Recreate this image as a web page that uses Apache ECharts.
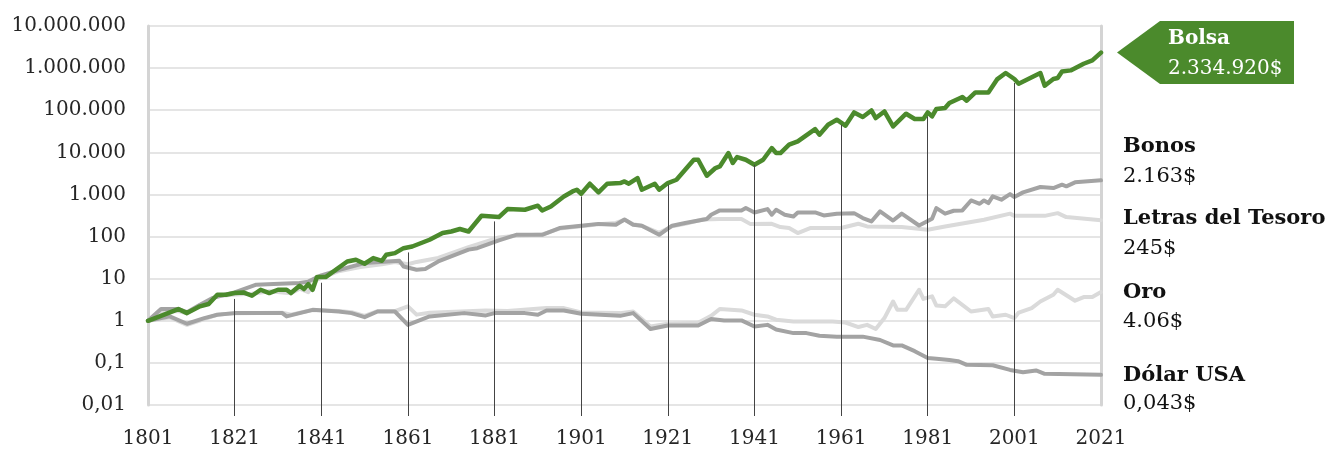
<!DOCTYPE html>
<html>
<head>
<meta charset="utf-8">
<script src="https://cdn.jsdelivr.net/npm/echarts@6/dist/echarts.min.js"></script>
<style>
html,body{margin:0;padding:0;background:#fff;}
#chart{width:1343px;height:454px;}
</style>
</head>
<body>
<div id="chart"></div>
<script>
// ---- Data ----
const bolsaYears = [1801,1808,1810,1813,1815,1817,1819,1821,1823,1825,1827,1829,1831,1833,1834,1836,1837,1838,1839,1840,1842,1847,1849,1851,1853,1855,1856,1858,1860,1862,1866,1869,1871,1873,1875,1878,1882,1884,1888,1891,1892,1894,1897,1899,1900,1901,1903,1905,1907,1910,1911,1912,1914,1915,1918,1919,1921,1923,1925,1927,1928,1930,1932,1933,1935,1936,1937,1939,1941,1943,1945,1946,1947,1949,1951,1955,1956,1958,1960,1962,1964,1966,1968,1969,1971,1973,1976,1978,1980,1981,1982,1983,1985,1986,1989,1990,1992,1995,1997,1999,2001,2002,2007,2008,2010,2011,2012,2014,2017,2019,2021];
const bolsaValues = [1,1.9,1.52,2.2,2.5,4.15,4.15,4.55,4.7,3.93,5.45,4.55,5.45,5.45,4.55,6.8,5.66,7.4,5.45,10.9,10.9,25.6,28.1,22.6,30.8,26.6,37,40.5,53,58,84,121,132,151,132,312,290,450,433,540,417,519,896,1178,1294,1040,1795,1116,1795,1866,2037,1795,2455,1294,1795,1294,1866,2234,3860,6670,6670,2780,4240,4620,9620,5570,7730,6670,5070,6670,12650,9620,9620,15170,18160,35700,26200,45300,59500,42900,88700,68900,98900,65300,93600,41200,82600,61800,61800,88700,71300,107000,113000,148000,206000,168000,265000,265000,540000,766000,551000,427000,766000,382000,551000,582000,835000,883000,1270000,1520000,2334920];

const bonosYears = [1801,1804,1808,1810,1813,1816,1819,1821,1826,1830,1836,1838,1841,1845,1851,1859,1860,1863,1865,1868,1875,1877,1882,1886,1892,1896,1901,1905,1909,1911,1913,1915,1919,1922,1925,1930,1931,1933,1938,1939,1941,1944,1945,1946,1948,1950,1951,1955,1957,1960,1964,1966,1968,1970,1973,1975,1979,1982,1983,1985,1987,1989,1991,1993,1994,1995,1996,1998,2000,2001,2003,2007,2010,2012,2013,2015,2021];
const bonosValues = [1,1.9,1.9,1.6,2.4,3.5,4.2,4.7,7.2,7.5,7.9,8.5,12,16,23.5,26.6,19.5,16.3,17,25.6,49,53,81,110,110,159,181,200,191,255,191,181,110,181,209,261,330,418,418,477,373,449,330,433,330,300,373,373,317,350,360,275,228,396,240,350,183,264,474,350,410,418,720,600,720,625,900,750,1020,870,1120,1500,1420,1700,1560,1940,2163];

const letrasYears = [1801,1804,1808,1810,1813,1815,1817,1821,1825,1829,1834,1836,1838,1840,1845,1850,1855,1858,1861,1863,1868,1875,1879,1882,1886,1892,1896,1901,1905,1909,1911,1913,1915,1919,1922,1925,1929,1933,1938,1940,1945,1947,1949,1951,1954,1961,1965,1967,1975,1981,1985,1994,2000,2001,2008,2011,2013,2021];
const letrasValues = [1,1.6,1.7,1.5,2.3,3,3.8,4.2,4.4,5,4.5,5.8,4.8,9.5,15,19,22,25,22,25,31,56,76,95,105,112,155,175,195,210,250,195,180,123,175,200,254,261,261,200,201,168,160,121,160,160,201,174,168,145,174,250,350,310,310,360,290,245];

const oroYears = [1801,1806,1810,1814,1817,1821,1832,1834,1839,1845,1848,1851,1854,1858,1861,1863,1866,1879,1884,1893,1897,1901,1910,1913,1917,1921,1928,1931,1933,1938,1941,1944,1946,1950,1959,1962,1965,1967,1969,1971,1973,1974,1976,1979,1980,1982,1983,1985,1987,1991,1995,1996,1999,2001,2002,2005,2007,2010,2011,2015,2017,2019,2021];
const oroValues = [1,1.2,0.8,1.1,1.4,1.5,1.55,1.4,1.8,1.7,1.6,1.3,1.7,1.7,2.2,1.4,1.55,1.76,1.7,2.0,2.0,1.57,1.52,1.66,0.73,0.85,0.9,1.31,1.9,1.76,1.39,1.27,1.06,0.96,0.96,0.91,0.71,0.8,0.64,1.16,2.87,1.82,1.82,5.45,3.3,3.8,2.3,2.2,3.4,1.66,1.9,1.27,1.39,1.16,1.57,2.0,2.87,4.15,5.45,3.0,3.66,3.66,4.8];

const dolarYears = [1801,1806,1810,1814,1817,1821,1832,1833,1839,1845,1848,1851,1854,1858,1861,1866,1874,1879,1881,1888,1891,1893,1897,1901,1910,1913,1917,1921,1928,1931,1934,1938,1941,1944,1946,1950,1953,1956,1960,1966,1970,1973,1975,1978,1981,1983,1986,1988,1990,1996,2000,2003,2006,2008,2021];
const dolarValues = [1,1.27,0.85,1.16,1.39,1.52,1.52,1.27,1.82,1.66,1.52,1.22,1.66,1.66,0.8,1.27,1.52,1.34,1.52,1.52,1.39,1.76,1.76,1.47,1.31,1.52,0.64,0.77,0.77,1.1,1.02,1.02,0.73,0.8,0.62,0.51,0.51,0.44,0.42,0.42,0.35,0.26,0.26,0.19,0.13,0.125,0.117,0.11,0.09,0.088,0.068,0.06,0.066,0.055,0.052];

// vertical drop lines (every 20 years) up to the Bolsa line
const dropYears = [1821,1841,1861,1881,1901,1921,1941,1961,1981,2001];
const dropTops  = [3.3,8,42,229,900,1700,5070,45000,71000,443000];

// axis ticks
const xTickValues = [1801,1821,1841,1861,1881,1901,1921,1941,1961,1981,2001,2021];
const yTickValues = [0.01,0.1,1,10,100,1000,10000,100000,1000000,10000000];
const yTickLabels = ['0,01','0,1','1','10','100','1.000','10.000','100.000','1.000.000','10.000.000'];

// end labels
const endNames  = ['Bonos','Letras del Tesoro','Oro','Dólar USA'];
const endValues = ['2.163$','245$','4.06$','0,043$'];
const bolsaName = 'Bolsa';
const bolsaLabel = '2.334.920$';

// ---- Chart ----
const FONT = '"DejaVu Serif", serif';
const GREEN = '#4b8a2c';
const zip = (xs, ys) => xs.map((x, i) => [x, ys[i]]);

const chart = echarts.init(document.getElementById('chart'), null, {renderer: 'canvas'});

function lineSeries(name, xs, ys, color, width, z) {
  return {
    name, type: 'line', data: zip(xs, ys), showSymbol: false, symbol: 'none',
    lineStyle: {color, width, join: 'round', cap: 'round'}, z, silent: true, animation: false
  };
}

const option = {
  animation: false,
  backgroundColor: '#ffffff',
  grid: {left: 148, right: 242, top: 26, bottom: 49, containLabel: false},
  xAxis: {
    type: 'value', min: 1801, max: 2021,
    axisLine: {show: false},
    splitLine: {show: false},
    axisTick: {show: true, customValues: dropYears, length: 11, lineStyle: {color: '#444', width: 1}},
    axisLabel: {customValues: xTickValues, formatter: v => String(v), fontFamily: FONT, fontSize: 20, color: '#262626', margin: 24}
  },
  yAxis: [{
    type: 'log', logBase: 10, min: 0.01, max: 10000000, splitNumber: 9,
    axisLine: {show: true, lineStyle: {color: '#d4d4d4', width: 3}},
    axisTick: {show: false},
    splitLine: {show: true, lineStyle: {color: '#dcdcdc', width: 1.5}},
    axisLabel: {
      fontFamily: FONT, fontSize: 20, color: '#262626', margin: 22,
      formatter: v => yTickLabels[Math.round(Math.log10(v)) + 2]
    }
  }, {
    type: 'log', logBase: 10, min: 0.01, max: 10000000, position: 'right',
    axisLine: {show: true, lineStyle: {color: '#d4d4d4', width: 3}},
    axisTick: {show: false}, axisLabel: {show: false}, splitLine: {show: false}
  }],
  series: [
    {
      type: 'line', data: [], z: 1, silent: true,
      markLine: {
        silent: true, symbol: ['none', 'none'], label: {show: false},
        lineStyle: {color: '#444', width: 1, type: 'solid'},
        data: dropYears.map((y, i) => [{coord: [y, 0.01]}, {coord: [y, dropTops[i]]}])
      }
    },
    lineSeries('Letras del Tesoro', letrasYears, letrasValues, '#dadada', 4, 2),
    lineSeries('Oro', oroYears, oroValues, '#dadada', 4, 2),
    lineSeries('Bonos', bonosYears, bonosValues, '#a3a3a3', 4, 3),
    lineSeries('Dólar USA', dolarYears, dolarValues, '#a3a3a3', 4, 3),
    lineSeries('Bolsa', bolsaYears, bolsaValues, GREEN, 4.5, 4)
  ]
};
chart.setOption(option);

// Callout and end labels (annotations)
const last = chart.convertToPixel({gridIndex: 0}, [bolsaYears[bolsaYears.length - 1], bolsaValues[bolsaValues.length - 1]]);
const tipX = last[0] + 16, tipY = last[1];
const labelX = 1123;
const endYs = [[147, 177], [219, 249], [293, 322], [376, 404]];
const graphics = [
  {type: 'polygon', shape: {points: [[tipX, tipY], [tipX + 43, tipY - 31.5], [1294, tipY - 31.5], [1294, tipY + 31.5], [tipX + 43, tipY + 31.5]]},
   style: {fill: GREEN}, silent: true},
  {type: 'text', x: tipX + 51, y: tipY - 14, style: {text: bolsaName, font: 'bold 20px ' + FONT, fill: '#ffffff', verticalAlign: 'middle'}, silent: true},
  {type: 'text', x: tipX + 51, y: tipY + 16, style: {text: bolsaLabel, font: '20px ' + FONT, fill: '#ffffff', verticalAlign: 'middle'}, silent: true}
];
endNames.forEach((n, i) => {
  graphics.push({type: 'text', x: labelX, y: endYs[i][0], style: {text: n, font: 'bold 21px ' + FONT, fill: '#111111', verticalAlign: 'middle'}, silent: true});
  graphics.push({type: 'text', x: labelX, y: endYs[i][1], style: {text: endValues[i], font: '21px ' + FONT, fill: '#111111', verticalAlign: 'middle'}, silent: true});
});
chart.setOption({graphic: graphics});
</script>
</body>
</html>
